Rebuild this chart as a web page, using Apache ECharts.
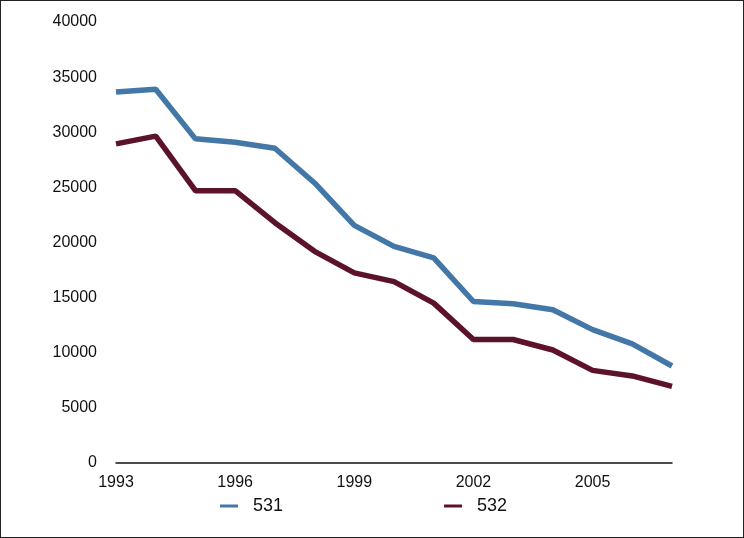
<!DOCTYPE html>
<html><head><meta charset="utf-8">
<script src="https://cdn.jsdelivr.net/npm/echarts@6/dist/echarts.min.js"></script>
<style>
html,body{margin:0;padding:0;background:#fff;}
#c{width:744px;height:538px;box-sizing:border-box;border:1px solid #222;}
</style></head>
<body><div id="c"></div>
<script>
var years = ['1993','1994','1995','1996','1997','1998','1999','2000','2001','2002','2003','2004','2005','2006','2007'];
var s531 = [33650, 33900, 29400, 29100, 28550, 25400, 21550, 19650, 18600, 14650, 14450, 13900, 12100, 10800, 8800];
var s532 = [28950, 29650, 24700, 24700, 21800, 19200, 17250, 16450, 14500, 11200, 11200, 10250, 8400, 7900, 6950];
var names = ['531', '532'];
var colors = ['#4277a8', '#5c1228'];

var chart = echarts.init(document.getElementById('c'));
var fontFam = '"Liberation Sans", Arial, Helvetica, sans-serif';
chart.setOption({
  animation: false,
  grid: {left: 115, right: 71, top: 21, bottom: 74},
  legend: {
    left: 214, top: 491,
    itemWidth: 18, itemHeight: 3, itemGap: 161,
    icon: 'rect',
    textStyle: {fontSize: 18, color: '#111', fontFamily: fontFam, padding: [0,0,0,10]},
    data: names
  },
  xAxis: {
    type: 'category', data: years, boundaryGap: false,
    axisLine: {lineStyle: {color: '#111', width: 1.5}},
    axisTick: {show: false},
    axisLabel: {interval: 2, fontSize: 16, color: '#111', fontFamily: fontFam, margin: 12}
  },
  yAxis: {
    type: 'value', min: 0, max: 40000, interval: 5000,
    axisLine: {show: false}, axisTick: {show: false}, splitLine: {show: false},
    axisLabel: {fontSize: 16, color: '#111', fontFamily: fontFam, margin: 19,
      formatter: function (v) { return String(v); }}
  },
  series: [
    {name: names[0], type: 'line', data: s531, symbol: 'none', lineStyle: {color: colors[0], width: 5.5}, itemStyle: {color: colors[0]}},
    {name: names[1], type: 'line', data: s532, symbol: 'none', lineStyle: {color: colors[1], width: 5.5}, itemStyle: {color: colors[1]}}
  ]
});
</script></body></html>
